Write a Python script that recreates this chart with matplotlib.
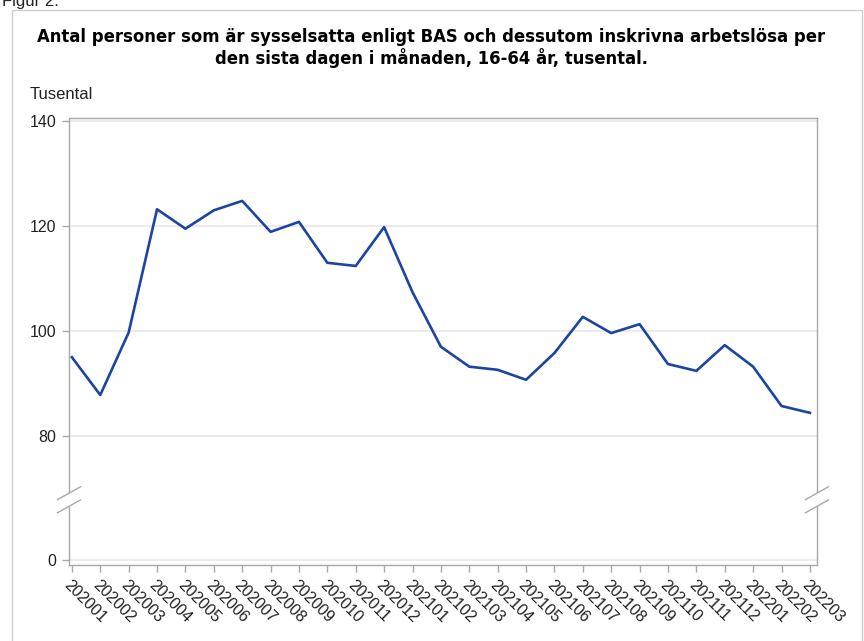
import numpy as np
import matplotlib
matplotlib.use("Agg")
import matplotlib.pyplot as plt
from matplotlib.patches import Rectangle

plt.rcParams['font.family'] = ['Liberation Sans', 'DejaVu Sans']

# data, tusental
months = ['202001', '202002', '202003', '202004', '202005', '202006', '202007',
          '202008', '202009', '202010', '202011', '202012', '202101', '202102',
          '202103', '202104', '202105', '202106', '202107', '202108', '202109',
          '202110', '202111', '202112', '202201', '202202', '202203']
values = [95.0, 87.8, 99.7, 123.2, 119.5, 123.0, 124.8,
          118.9, 120.8, 113.0, 112.4, 119.8, 107.4, 97.0,
          93.2, 92.6, 90.7, 95.8, 102.7, 99.6, 101.3,
          93.7, 92.4, 97.3, 93.2, 85.7, 84.4]
yticks = [0, 80, 100, 120, 140]

# broken axis: 0..80 squeezed into a short band
BRK = 80.0
LOW = 23.6


def fwd(v):
    v = np.asarray(v, dtype=float)
    return np.where(v >= BRK, v, BRK - LOW + v * LOW / BRK)


def inv(p):
    p = np.asarray(p, dtype=float)
    return np.where(p >= BRK, p, (p - (BRK - LOW)) * BRK / LOW)


fig = plt.figure(figsize=(8.64, 6.41), dpi=100)
ax = fig.add_axes([0.0799, 0.1186, 0.8657, 0.6973])
ax.set_yscale('function', functions=(fwd, inv))

x = np.arange(len(months))
ax.plot(x, values, color='#1c44a2', linewidth=1.9, zorder=3)

ymin, ymax = -3.4, 140.6
ax.set_xlim(-0.1, len(months) - 1 + 0.25)
ax.set_ylim(ymin, ymax)
ax.set_yticks(yticks)
ax.set_yticklabels([str(t) for t in yticks])
ax.set_xticks(x)
ax.set_xticklabels(months, rotation=-45, ha='left', va='top', rotation_mode='anchor')

ax.grid(axis='y', color='#e8e8e8', linewidth=1.2)
ax.set_axisbelow(True)
for s in ax.spines.values():
    s.set_color('#a8a8a8')
    s.set_linewidth(1.0)
ax.tick_params(axis='both', colors='#a8a8a8', labelcolor='#222222', length=5, width=1.0)
ax.tick_params(axis='x', labelsize=11.5, pad=4)
ax.tick_params(axis='y', labelsize=11.5, pad=4)

# break marks on left and right spines
span = float(fwd(ymax) - fwd(ymin))
ya = float(fwd(34.5) - fwd(ymin)) / span
yb = float(fwd(43.0) - fwd(ymin)) / span
for xs in (0.0, 1.0):
    ax.add_patch(Rectangle((xs - 0.006, ya), 0.012, yb - ya, transform=ax.transAxes,
                           facecolor='white', edgecolor='none', clip_on=False, zorder=5))
    for yy in (ya, yb):
        ax.plot([xs - 0.0155, xs + 0.0155], [yy - 0.0145, yy + 0.0145], transform=ax.transAxes,
                color='#a8a8a8', linewidth=1.0, clip_on=False, zorder=6)

fig.text(0.4988, 0.925, 'Antal personer som är sysselsatta enligt BAS och dessutom inskrivna arbetslösa per\n'
         'den sista dagen i månaden, 16-64 år, tusental.',
         ha='center', va='center', fontsize=11.9, fontweight='bold', linespacing=1.1,
         family=['DejaVu Sans'])
fig.text(0.034, 0.852, 'Tusental', ha='left', va='center', fontsize=12, color='#222222')
fig.text(0.002, 0.997, 'Figur 2.', ha='left', va='center', fontsize=12, color='#222222')

fig.patches.append(Rectangle((12 / 864, -0.1), (862 - 12) / 864, 1.1 - 10 / 641,
                             transform=fig.transFigure, facecolor='none',
                             edgecolor='#cfcfcf', linewidth=1.0))

fig.savefig('out.png', dpi=100)
